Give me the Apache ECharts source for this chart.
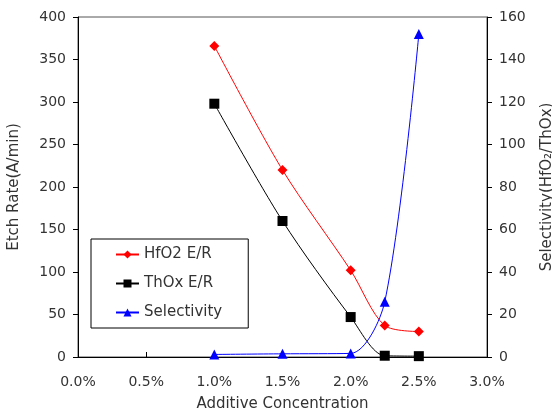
<!DOCTYPE html>
<html>
<head>
<meta charset="utf-8">
<script src="https://cdn.jsdelivr.net/npm/echarts@6/dist/echarts.min.js"></script>
<style>
  html, body { margin: 0; padding: 0; background: #fff; }
  #main { width: 552px; height: 411px; }
</style>
</head>
<body>
<div id="main"></div>
<script>
// 数据
var conc = [1.0, 1.5, 2.0, 2.25, 2.5];          // Additive Concentration (%)
var hfo2 = [366, 220, 102, 37, 30];             // HfO2 E/R
var thox = [298, 160, 47, 1.5, 1];              // ThOx E/R
var selectivity = [1.2, 1.5, 1.7, 26, 152];     // Selectivity (right axis)

function pairs(xs, ys) {
  return xs.map(function (x, i) { return [x, ys[i]]; });
}

var chart = echarts.init(document.getElementById('main'));
var font = 'DejaVu Sans';

var option = {
  animation: false,
  textStyle: { fontFamily: font },
  grid: {
    left: 78, right: 65, top: 17, bottom: 54,
    containLabel: false,
    outerBoundsMode: 'none',
    show: true, borderColor: '#555', borderWidth: 1
  },
  legend: {
    orient: 'vertical',
    left: 91, top: 239,
    padding: [8, 26, 8, 24],
    itemGap: 14,
    itemWidth: 23, itemHeight: 10,
    borderColor: '#000', borderWidth: 1,
    textStyle: { fontFamily: font, fontSize: 15, color: '#333' },
    data: ['HfO2 E/R', 'ThOx E/R', 'Selectivity']
  },
  xAxis: {
    type: 'value',
    min: 0, max: 3, interval: 0.5,
    name: 'Additive Concentration',
    nameLocation: 'middle',
    nameGap: 40,
    nameTextStyle: { fontSize: 15, color: '#333' },
    axisLine: { lineStyle: { color: '#000' } },
    axisTick: { inside: true, length: 5, lineStyle: { color: '#000' } },
    axisLabel: {
      fontSize: 14, color: '#333', margin: 18,
      formatter: function (v) { return v.toFixed(1) + '%'; }
    },
    splitLine: { show: false }
  },
  yAxis: [{
    type: 'value',
    min: 0, max: 400, interval: 50,
    name: 'Etch Rate(A/min)',
    nameLocation: 'middle',
    nameGap: 56,
    nameTextStyle: { fontSize: 15, color: '#333' },
    axisLine: { show: true, lineStyle: { color: '#000' } },
    axisTick: { show: true, length: 5, lineStyle: { color: '#000' } },
    axisLabel: { fontSize: 14, color: '#333', margin: 12 },
    splitLine: { show: false }
  }, {
    type: 'value',
    position: 'right',
    min: 0, max: 160, interval: 20,
    name: 'Selectivity(HfO\u2082/ThOx)',
    nameLocation: 'middle',
    nameGap: 53,
    nameTextStyle: { fontSize: 15, color: '#333' },
    axisLine: { show: true, lineStyle: { color: '#000' } },
    axisTick: { show: true, length: 5, lineStyle: { color: '#000' } },
    axisLabel: { fontSize: 14, color: '#333', margin: 12 },
    splitLine: { show: false }
  }],
  series: [{
    name: 'HfO2 E/R',
    type: 'line',
    smooth: 0.3,
    symbol: 'diamond',
    symbolSize: 10,
    color: '#ff0000',
    lineStyle: { width: 1 },
    data: pairs(conc, hfo2)
  }, {
    name: 'ThOx E/R',
    type: 'line',
    smooth: 0.3,
    symbol: 'rect',
    symbolSize: 10,
    color: '#000000',
    lineStyle: { width: 1 },
    data: pairs(conc, thox)
  }, {
    name: 'Selectivity',
    type: 'line',
    yAxisIndex: 1,
    smooth: 0.3,
    symbol: 'triangle',
    symbolSize: 10,
    color: '#0000ff',
    lineStyle: { width: 1 },
    data: pairs(conc, selectivity)
  }]
};
chart.setOption(option);
</script>
</body>
</html>
